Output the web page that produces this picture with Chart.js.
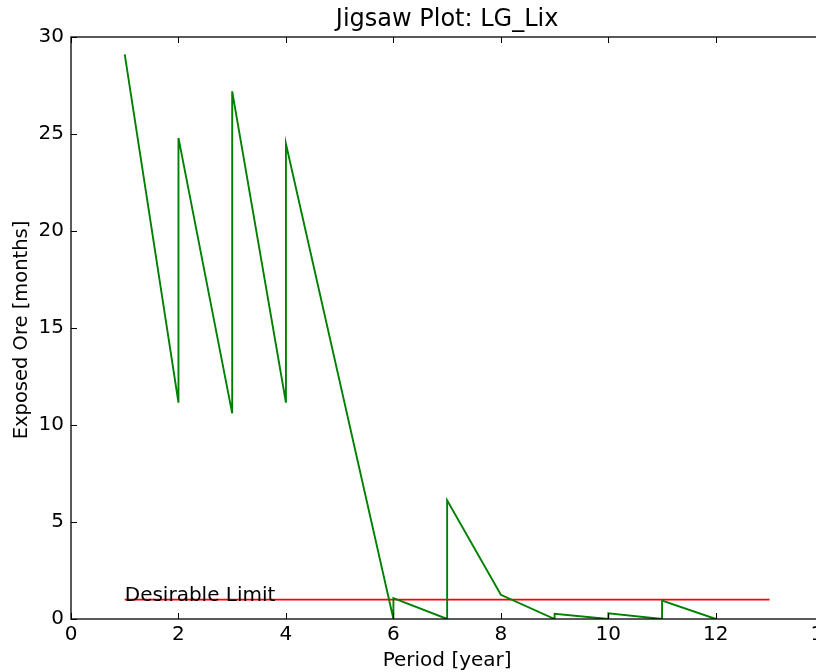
<!DOCTYPE html>
<html>
<head>
<meta charset="utf-8">
<script src="https://cdn.jsdelivr.net/npm/chart.js@4/dist/chart.umd.min.js"></script>
<style>
  html, body { margin:0; padding:0; background:#fff; overflow:hidden; }
  #wrap { width:816px; height:672px; overflow:hidden; }
</style>
</head>
<body>
<div id="wrap"><canvas id="jigsaw" width="840" height="672" style="width:840px;height:672px"></canvas></div>
<script>
// jigsaw series (period, exposed ore in months)
const periods = [1, 2, 2, 3, 3, 4, 4, 6, 6, 7, 7, 8, 9, 9, 10, 10, 11, 11, 12];
const exposedOre = [29.1, 11.15, 24.8, 10.6, 27.2, 11.15, 24.5, 0, 1.08, 0, 6.12, 1.25, 0, 0.27, 0, 0.29, 0, 0.95, 0];

// desirable limit line
const limitX = [1, 13];
const limitY = [1, 1];

const xTicks = [0, 2, 4, 6, 8, 10, 12, 14];
const yTicks = [0, 5, 10, 15, 20, 25, 30];

const FONT = "'DejaVu Sans', sans-serif";

// draws box, inward ticks, title, axis labels and the text annotation
const framePlugin = {
  id: "frame",
  afterDraw(chart) {
    const ctx = chart.ctx;
    const a = chart.chartArea;
    const xs = chart.scales.x, ys = chart.scales.y;
    ctx.save();
    ctx.strokeStyle = "#000";
    ctx.lineWidth = 1.3;
    ctx.strokeRect(a.left, a.top, a.right - a.left, a.bottom - a.top);

    ctx.lineWidth = 1;
    ctx.beginPath();
    xTicks.forEach(v => {
      const px = Math.round(xs.getPixelForValue(v)) + 0.5;
      ctx.moveTo(px, a.bottom); ctx.lineTo(px, a.bottom - 6);
      ctx.moveTo(px, a.top); ctx.lineTo(px, a.top + 6);
    });
    yTicks.forEach(v => {
      const py = Math.round(ys.getPixelForValue(v)) + 0.5;
      ctx.moveTo(a.left, py); ctx.lineTo(a.left + 6, py);
      ctx.moveTo(a.right, py); ctx.lineTo(a.right - 6, py);
    });
    ctx.stroke();

    ctx.fillStyle = "#000";
    const cx = (a.left + a.right) / 2;
    ctx.font = "24px " + FONT;
    ctx.textAlign = "center";
    ctx.textBaseline = "alphabetic";
    ctx.fillText("Jigsaw Plot: LG_Lix", cx, 26);

    ctx.font = "20px " + FONT;
    ctx.fillText("Period [year]", cx, 666);

    ctx.save();
    ctx.font = "19.5px " + FONT;
    ctx.translate(27, (a.top + a.bottom) / 2 + 2);
    ctx.rotate(-Math.PI / 2);
    ctx.fillText("Exposed Ore [months]", 0, 0);
    ctx.restore();

    ctx.textAlign = "left";
    ctx.fillText("Desirable Limit", xs.getPixelForValue(1), ys.getPixelForValue(1) + 1);
    ctx.restore();
  }
};

new Chart(document.getElementById("jigsaw"), {
  type: "scatter",
  data: {
    datasets: [
      {
        data: periods.map((p, i) => ({x: p, y: exposedOre[i]})),
        showLine: true,
        borderColor: "#008000",
        borderWidth: 1.9,
        pointRadius: 0,
        tension: 0
      },
      {
        data: limitX.map((p, i) => ({x: p, y: limitY[i]})),
        showLine: true,
        borderColor: "#ff0000",
        borderWidth: 1.9,
        pointRadius: 0
      }
    ]
  },
  options: {
    responsive: false,
    animation: false,
    layout: { autoPadding: false, padding: { top: 37, right: 15, left: 0, bottom: 0 } },
    plugins: { legend: { display: false }, tooltip: { enabled: false } },
    scales: {
      x: {
        type: "linear", min: 0, max: 14,
        afterFit: s => { s.height = 53; },
        afterBuildTicks: s => { s.ticks = xTicks.map(v => ({value: v})); },
        grid: { display: false, drawTicks: false },
        border: { display: false },
        ticks: { color: "#000", font: { family: FONT, size: 20 }, padding: 4, maxRotation: 0, autoSkip: false }
      },
      y: {
        type: "linear", min: 0, max: 30,
        afterFit: s => { s.width = 71; },
        afterBuildTicks: s => { s.ticks = yTicks.map(v => ({value: v})); },
        grid: { display: false, drawTicks: false },
        border: { display: false },
        ticks: { color: "#000", font: { family: FONT, size: 20 }, padding: 7, autoSkip: false }
      }
    }
  },
  plugins: [framePlugin]
});
</script>
</body>
</html>
